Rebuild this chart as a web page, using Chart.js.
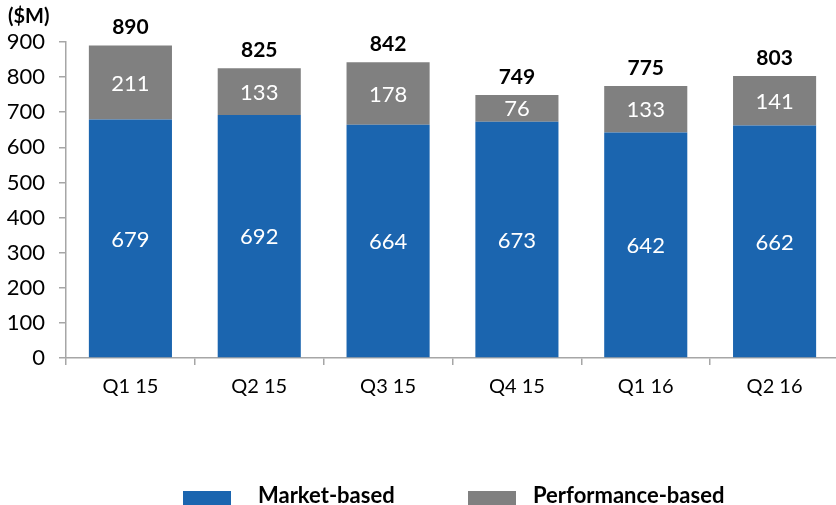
<!doctype html>
<html lang="en">
<head>
    <meta charset="utf-8">
    <script src="https://cdn.jsdelivr.net/npm/chart.js"></script>
    <title>Market-based vs Performance-based</title>
    <style>
        body { margin: 0; background: #fff; }
        #wrap { position: relative; width: 836px; height: 505px; overflow: hidden; }
        #unit { position: absolute; left: 8px; top: 3px; font: bold 20px Lato, sans-serif; color: #000; }
        .legenda { position: absolute; top: 481px; font: bold 22px Lato, sans-serif; color: #000; }
        .legend-box { position: absolute; top: 10px; width: 48px; height: 16px; }
    </style>
</head>
<body>
    <div id="wrap">
        <canvas id="chart" width="842" height="505"></canvas>
        <div id="unit">($M)</div>
        <div class="legenda" style="left: 183px;">
            <span class="legend-box" style="left: 0; background: #1B65AF;"></span>
            <span style="margin-left: 75px;">Market-based</span>
        </div>
        <div class="legenda" style="left: 468px;">
            <span class="legend-box" style="left: 0; background: #808080;"></span>
            <span style="margin-left: 65px;">Performance-based</span>
        </div>
    </div>
    <script type="text/javascript">
        // data
        var kuartal = ['Q1 15', 'Q2 15', 'Q3 15', 'Q4 15', 'Q1 16', 'Q2 16'];
        var marketBased = [679, 692, 664, 673, 642, 662];
        var performanceBased = [211, 133, 178, 76, 133, 141];
        var totals = [890, 825, 842, 749, 775, 803];

        var fontName = 'Lato, sans-serif';

        // label nilai di dalam bar dan total di atas
        var labelPlugin = {
            id: 'labelNilai',
            afterDatasetsDraw: function (chart) {
                var ctx = chart.ctx;
                ctx.save();
                ctx.textAlign = 'center';
                ctx.textBaseline = 'middle';
                ctx.font = '22px ' + fontName;
                ctx.fillStyle = '#fff';
                chart.data.datasets.forEach(function (ds, i) {
                    chart.getDatasetMeta(i).data.forEach(function (bar, j) {
                        var mid = (bar.y + bar.base) / 2;
                        ctx.fillText(ds.data[j], bar.x, mid + 1);
                    });
                });
                ctx.font = 'bold 21px ' + fontName;
                ctx.fillStyle = '#000';
                var topMeta = chart.getDatasetMeta(1);
                topMeta.data.forEach(function (bar, j) {
                    ctx.fillText(totals[j], bar.x, bar.y - 18);
                });
                ctx.restore();
            }
        };

        var ctx = document.getElementById('chart').getContext('2d');
        var chart = new Chart(ctx, {
            type: 'bar',
            data: {
                labels: kuartal,
                datasets: [{
                    label: 'Market-based',
                    backgroundColor: '#1B65AF',
                    data: marketBased
                }, {
                    label: 'Performance-based',
                    backgroundColor: '#808080',
                    data: performanceBased
                }]
            },
            plugins: [labelPlugin],
            options: {
                responsive: false,
                animation: false,
                categoryPercentage: 1,
                barPercentage: 0.645,
                layout: { padding: { left: 0, top: 42, right: 3, bottom: 0 } },
                plugins: {
                    legend: { display: false },
                    tooltip: { enabled: false }
                },
                scales: {
                    x: {
                        stacked: true,
                        afterFit: function (s) { s.height = 147; },
                        grid: { drawOnChartArea: false, tickLength: 7, color: '#A6A6A6', lineWidth: 1.5 },
                        border: { color: '#A6A6A6', width: 1.5 },
                        ticks: { color: '#000', font: { family: fontName, size: 20 }, padding: 10 }
                    },
                    y: {
                        stacked: true,
                        min: 0,
                        max: 900,
                        afterFit: function (s) { s.width = 66; },
                        grid: { drawOnChartArea: false, tickLength: 7, color: '#A6A6A6', lineWidth: 1.5 },
                        border: { color: '#A6A6A6', width: 1.5 },
                        ticks: { stepSize: 100, color: '#000', font: { family: fontName, size: 22 }, padding: 14 }
                    }
                }
            }
        });
    </script>
</body>
</html>
